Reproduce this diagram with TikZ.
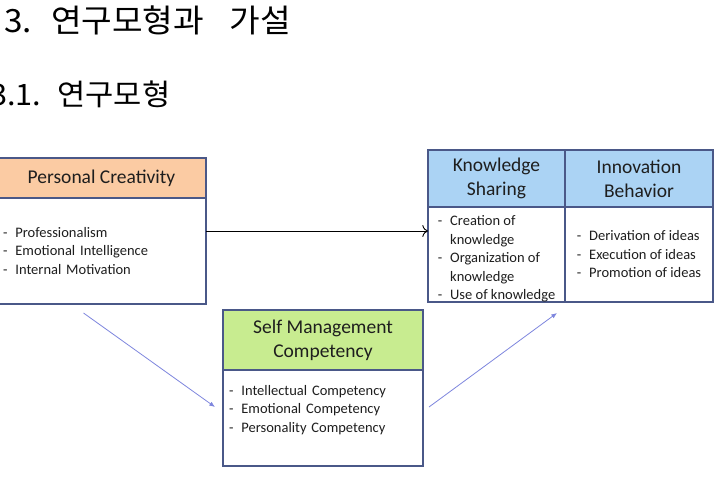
\documentclass[tikz,border=0pt]{standalone}
\usepackage{fontspec}
\setmainfont{Carlito}
\newfontfamily\krfont{Noto Sans CJK KR}[FakeStretch=1.04]
\usepackage{tikz}
\usetikzlibrary{arrows.meta,positioning}
\definecolor{peach}{HTML}{FBCBA3}
\definecolor{skyblue}{HTML}{ABD3F4}
\definecolor{limegreen}{HTML}{C8EC90}
\definecolor{frame}{HTML}{4A5888}
\definecolor{linkblue}{HTML}{7E86DE}
\definecolor{ink}{HTML}{1E1E1E}
\newcommand{\itemdash}{-\hspace{0.55em}}
\newcommand{\itemgap}{\phantom{-}\hspace{0.55em}}

\begin{document}
\begin{tikzpicture}[x=1pt,y=-1pt,
  head/.style={draw=frame,line width=1.3pt,outer sep=0pt,inner sep=0pt,align=center,text=ink,font=\fontsize{19.5}{24}\selectfont},
  body/.style={draw=frame,line width=1.3pt,outer sep=0pt,inner xsep=6pt,inner ysep=0pt,fill=white,align=left,text=ink,font=\fontsize{14.5}{18.5}\selectfont},
  arrow/.style={-{To[length=2mm]},line width=0.9pt,draw=black},
  link/.style={-{Latex[length=2mm,width=1.6mm]},line width=0.8pt,draw=linkblue}
]
\useasboundingbox[fill=white] (0,0) rectangle (720,480);
% titles
\node[anchor=base west,inner sep=0pt,font=\krfont\fontsize{32}{36}\selectfont] (title) at (4,32) {3.\hspace{0.6em}연구모형과\hspace{0.8em}가설};
\node[anchor=base west,inner sep=0pt,font=\krfont\fontsize{29.5}{34}\selectfont] (subtitle) at (-10,105) {3.1.\hspace{0.55em}연구모형};
% boxes
\node[head,fill=peach,minimum width=209,minimum height=40,anchor=north west] (pc) at (-3,158) {Personal Creativity};
\node[body,below=0pt of pc,text width=197pt,minimum height=106] (pcb) {\itemdash Professionalism\\\itemdash Emotional Intelligence\\\itemdash Internal Motivation};
\node[head,fill=skyblue,minimum width=137,minimum height=57,anchor=north west] (ks) at (428,150) {Knowledge\\Sharing};
\node[body,below=0pt of ks,minimum width=137,minimum height=95] (ksb) {\itemdash Creation of\\\itemgap knowledge\\\itemdash Organization of\\\itemgap knowledge\\\itemdash Use of knowledge\\[-25pt]\rule{0pt}{0pt}};
\node[head,fill=skyblue,right=0pt of ks,minimum width=148,minimum height=57] (ib) {Innovation\\Behavior};
\node[body,below=0pt of ib,minimum width=148,minimum height=95] (ibb) {\itemdash Derivation of ideas\\\itemdash Execution of ideas\\\itemdash Promotion of ideas};
\node[head,fill=limegreen,minimum width=200,minimum height=60,anchor=north west] (sm) at (223,310) {Self Management\\Competency};
\node[body,below=0pt of sm,text width=188pt,minimum height=96] (smb) {\itemdash Intellectual Competency\\\itemdash Emotional Competency\\\itemdash Personality Competency\\\rule{0pt}{0pt}};
% connectors
\path ([yshift=20pt]pcb.east) coordinate (pcout);
\draw[arrow] (pcout) -- (pcout -| ksb.west);
\draw[link] ([xshift=-18pt,yshift=-9pt]pcb.south) -- ([xshift=-8pt,yshift=11pt]smb.west);
\draw[link] ([xshift=6pt,yshift=11pt]smb.east) -- ([xshift=-8pt,yshift=-11pt]ibb.south west);
\end{tikzpicture}
\end{document}
